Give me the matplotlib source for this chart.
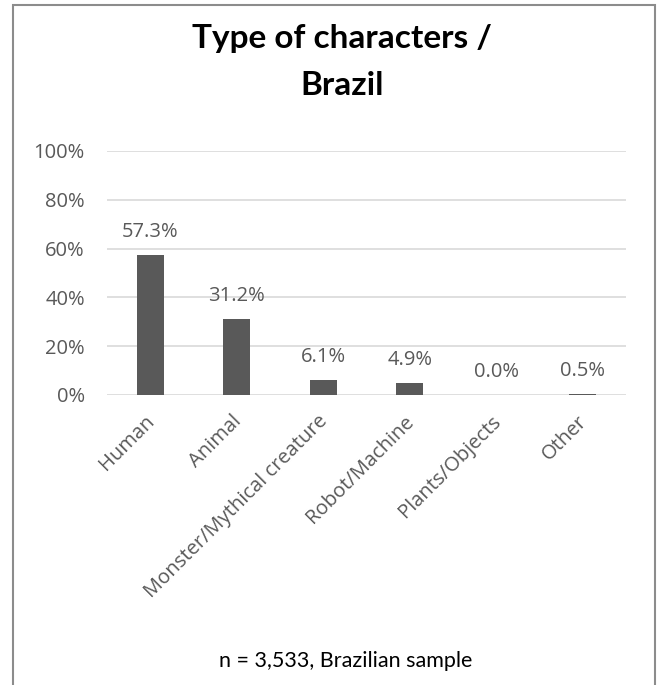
import matplotlib
matplotlib.use("Agg")
import matplotlib.pyplot as plt
from matplotlib.patches import Rectangle
from matplotlib.ticker import FuncFormatter
from matplotlib.transforms import ScaledTranslation

categories = ["Human", "Animal", "Monster/Mythical creature",
              "Robot/Machine", "Plants/Objects", "Other"]
shares = [57.3, 31.2, 6.1, 4.9, 0.0, 0.5]
y_ticks = [0, 20, 40, 60, 80, 100]

BAR = "#595959"
GRID = "#d9d9d9"
TXT = "#595959"
LABEL_FONT = ["Open Sans", "DejaVu Sans"]
HEAD_FONT = ["Lato", "DejaVu Sans"]

plt.rcParams["font.family"] = LABEL_FONT

W, H = 659, 685
fig = plt.figure(figsize=(W / 100, H / 100), dpi=100)
ax = fig.add_axes([107 / W, 1 - 395 / H, 519 / W, 244 / H])

x = range(len(categories))
ax.bar(x, shares, width=0.31, color=BAR, zorder=3)
for xi, v in zip(x, shares):
    ax.annotate(f"{v:.1f}%", (xi, v), xytext=(0, 13), textcoords="offset points",
                ha="center", va="baseline", fontsize=14.5, color=TXT)

ax.set_xlim(-0.5, len(categories) - 0.5)
ax.set_ylim(0, 100)
ax.set_yticks(y_ticks)
ax.yaxis.set_major_formatter(FuncFormatter(lambda v, _: f"{v:.0f}%"))
ax.set_xticks(list(x))
ax.set_xticklabels(categories, rotation=45, ha="right", va="center",
                   rotation_mode="anchor")
ax.tick_params(axis="y", length=0, labelsize=14.5, colors=TXT, pad=16)
ax.tick_params(axis="x", length=0, labelsize=14.5, colors=TXT, pad=17)
shift = ScaledTranslation(1 / 72, 0, fig.dpi_scale_trans)
for lbl in ax.get_xticklabels():
    lbl.set_transform(lbl.get_transform() + shift)
ax.grid(axis="y", color=GRID, linewidth=1.2, zorder=0)
for s in ax.spines.values():
    s.set_visible(False)

fig.text(342 / W, 1 - 48 / H, "Type of characters /", ha="center",
         va="baseline", fontsize=24, fontweight="bold", color="black",
         family=HEAD_FONT)
fig.text(342 / W, 1 - 95 / H, "Brazil", ha="center",
         va="baseline", fontsize=24, fontweight="bold", color="black",
         family=HEAD_FONT)
fig.text(346 / W, 1 - 667 / H, "n = 3,533, Brazilian sample", ha="center",
         va="baseline", fontsize=15.5, color="black", family=HEAD_FONT)

# chart frame, open at the bottom edge
fig.patches.append(Rectangle((13 / W, -0.05), 642 / W, 1 - 5 / H + 0.05,
                             transform=fig.transFigure, fill=False,
                             edgecolor="#8c8c8c", linewidth=1.5))

fig.savefig("out.png", dpi=100)
